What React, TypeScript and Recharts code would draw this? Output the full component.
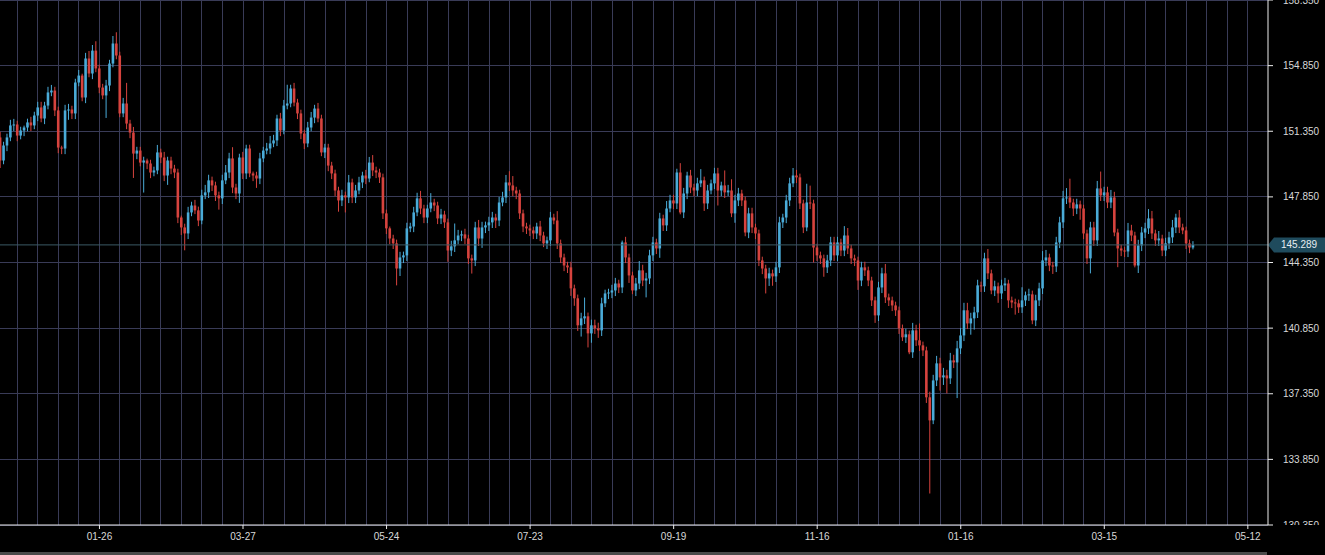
import React from "react";
import {
  ComposedChart,
  Bar,
  XAxis,
  YAxis,
  CartesianGrid,
  ReferenceLine,
} from "recharts";

// daily closes, oldest first (open of each candle = previous close)
const CLOSES = [
  149.79, 150.59, 151.02, 151.66, 151.71, 151.12, 151.39, 151.55, 151.82, 151.66,
  152.19, 152.62, 152.03, 152.72, 153.42, 153.52, 152.46, 150.48, 150.43, 152.46,
  152.51, 152.3, 153.95, 154.32, 153.15, 155.23, 154.43, 155.65, 154.7, 153.68,
  153.26, 153.79, 154.96, 156.03, 155.39, 152.3, 152.83, 151.76, 151.28, 150.16,
  150.32, 149.68, 149.79, 149.63, 149.15, 149.26, 150.22, 149.95, 148.99, 149.79,
  149.36, 149.15, 146.75, 146.22, 145.9, 147.02, 147.39, 147.13, 146.59, 147.93,
  148.09, 148.73, 148.46, 147.93, 147.77, 148.73, 149.15, 149.9, 148.35, 148.03,
  149.95, 149.1, 150.43, 149.1, 148.99, 148.83, 149.9, 150.32, 150.43, 150.7,
  150.86, 152.03, 151.39, 152.72, 152.83, 153.63, 152.88, 152.3, 151.23, 150.7,
  151.55, 152.08, 152.56, 152.03, 150.22, 150.48, 149.52, 149.1, 148.19, 147.66,
  147.93, 147.82, 148.62, 147.82, 148.19, 148.62, 148.99, 148.83, 149.68, 149.26,
  149.15, 148.89, 146.97, 146.17, 145.63, 145.37, 144.03, 144.62, 144.73, 146.17,
  146.27, 147.02, 147.77, 147.23, 146.75, 147.23, 147.55, 147.39, 146.7, 146.91,
  146.49, 144.99, 145.21, 145.53, 145.79, 145.85, 145.63, 144.57, 144.46, 146.22,
  145.63, 146.22, 146.33, 146.49, 146.75, 146.59, 147.55, 147.82, 148.62, 148.46,
  148.19, 148.03, 146.97, 146.27, 146.17, 146.06, 145.9, 146.27, 145.79, 145.37,
  145.53, 146.75, 146.59, 145.37, 144.62, 144.19, 144.09, 142.97, 142.44, 141.0,
  141.37, 141.48, 140.57, 141.0, 140.84, 140.73, 142.17, 142.7, 142.75, 142.86,
  143.23, 143.02, 145.42, 144.62, 143.66, 142.86, 143.23, 143.93, 143.39, 143.5,
  144.73, 145.42, 145.1, 146.7, 146.33, 147.23, 147.66, 147.5, 149.15, 147.02,
  148.03, 148.99, 148.35, 148.19, 148.57, 148.73, 147.5, 148.19, 148.57, 149.1,
  148.19, 148.46, 148.09, 148.19, 146.97, 147.66, 148.03, 147.66, 145.95, 146.97,
  146.22, 145.9, 144.46, 144.03, 143.5, 143.77, 143.61, 144.09, 146.49, 146.75,
  147.66, 148.57, 148.99, 148.89, 147.5, 146.22, 147.55, 147.5, 145.15, 144.73,
  144.57, 144.09, 144.46, 145.42, 144.73, 145.42, 144.99, 145.79, 145.1, 144.57,
  144.46, 143.39, 144.09, 143.93, 143.39, 142.33, 141.53, 143.02, 143.77, 142.49,
  142.33, 142.06, 141.8, 140.84, 140.36, 140.52, 139.56, 140.73, 140.2, 139.93,
  139.66, 137.16, 135.93, 138.06, 138.97, 138.22, 138.33, 138.17, 139.13, 139.02,
  139.77, 140.46, 141.8, 141.1, 141.37, 141.69, 143.13, 143.08, 144.57, 143.77,
  142.86, 143.08, 142.7, 143.13, 143.23, 142.33, 142.22, 142.17, 141.96, 142.33,
  142.6, 142.65, 141.26, 142.33, 142.97, 144.46, 144.62, 144.19, 144.14, 145.42,
  146.49, 147.77, 147.82, 147.55, 147.23, 147.45, 147.23, 145.9, 144.57, 146.22,
  145.53, 148.3, 147.93, 148.09, 147.55, 147.82, 145.95, 145.1, 144.99, 144.94,
  146.06, 145.79, 144.19, 145.26, 145.95, 146.17, 146.7, 145.9, 145.53, 145.63,
  144.99, 145.37, 145.69, 146.22, 146.75, 146.22, 146.06, 145.37, 145.15, 145.289,
];
const FIRST_OPEN = 151.02;

// wick length above the body
const UPPER_WICK = [
  0.3, 0.2, 0.2, 0.3, 0.3, 0.2, 0.2, 0.1, 0.2, 0.3,
  0.2, 0.3, 0.3, 0.2, 0.3, 0.3, 0.2, 0.2, 0.1, 0.3,
  0.3, 0.2, 0.2, 0.3, 0.1, 0.3, 0.4, 0.3, 0.5, 0.2,
  0.2, 0.3, 0.2, 0.4, 0.6, 0.2, 0.3, 1.1, 0.2, 0.3,
  0.2, 0.2, 0.2, 0.1, 0.2, 0.2, 0.4, 0.2, 0.3, 0.2,
  0.2, 0.2, 0.2, 0.1, 0.2, 0.3, 0.2, 0.3, 0.2, 0.3,
  0.4, 0.3, 0.2, 0.2, 0.2, 0.3, 0.4, 0.3, 0.6, 0.2,
  0.2, 0.3, 0.2, 0.2, 0.1, 0.2, 0.3, 0.2, 0.3, 0.4,
  0.3, 0.2, 0.3, 0.3, 1.0, 0.2, 0.3, 0.2, 0.2, 0.2,
  0.3, 0.3, 0.2, 0.3, 0.2, 0.2, 0.2, 0.2, 0.2, 0.2,
  0.3, 0.2, 0.4, 0.2, 0.3, 0.3, 0.2, 0.3, 0.3, 0.4,
  0.2, 0.2, 0.2, 0.2, 0.1, 0.2, 0.2, 0.3, 0.2, 0.3,
  0.2, 0.3, 0.3, 0.4, 0.2, 0.2, 0.5, 0.2, 0.2, 0.3,
  0.2, 0.2, 0.3, 0.9, 0.3, 0.2, 0.3, 0.2, 0.2, 0.3,
  0.4, 0.3, 0.2, 0.3, 0.3, 0.2, 0.3, 0.3, 0.4, 0.6,
  0.5, 0.2, 0.2, 0.2, 0.2, 0.2, 0.2, 0.2, 0.3, 0.2,
  0.2, 0.3, 0.2, 0.5, 0.2, 0.2, 0.2, 0.3, 0.2, 0.2,
  0.3, 1.0, 0.2, 0.3, 0.3, 0.3, 0.3, 0.2, 0.2, 0.3,
  0.3, 0.2, 0.1, 0.3, 0.2, 0.2, 0.3, 0.5, 0.3, 0.3,
  0.3, 0.3, 0.2, 0.3, 0.2, 0.4, 0.3, 0.3, 0.2, 0.5,
  0.3, 0.2, 0.3, 0.2, 0.3, 0.6, 0.2, 0.3, 0.2, 0.3,
  0.3, 0.2, 0.8, 0.3, 0.6, 0.3, 0.3, 0.2, 0.2, 0.3,
  0.3, 0.2, 0.2, 0.2, 0.2, 0.3, 0.2, 0.3, 0.3, 0.2,
  0.3, 0.3, 0.4, 0.3, 0.2, 0.2, 1.0, 0.9, 0.2, 0.2,
  0.2, 0.2, 0.3, 0.3, 0.3, 0.3, 0.2, 0.5, 0.4, 0.2,
  0.2, 0.2, 0.3, 0.3, 0.2, 0.2, 0.2, 0.3, 0.3, 0.5,
  0.2, 0.2, 0.2, 0.2, 0.2, 0.3, 0.2, 0.4, 0.3, 0.9,
  0.2, 0.2, 0.3, 0.3, 0.4, 0.3, 0.4, 0.3, 0.4, 0.3,
  0.4, 0.4, 0.4, 0.4, 0.3, 0.3, 0.3, 0.2, 0.3, 0.5,
  0.2, 0.3, 0.2, 0.3, 0.3, 0.2, 0.2, 0.2, 0.2, 0.7,
  0.2, 0.3, 0.2, 0.3, 0.3, 0.5, 0.4, 0.2, 0.2, 0.3,
  0.3, 0.4, 0.5, 1.0, 0.2, 0.3, 0.2, 0.2, 0.2, 0.3,
  0.3, 0.4, 0.9, 0.3, 0.3, 0.4, 0.3, 0.2, 0.2, 0.2,
  0.4, 0.3, 0.2, 0.3, 0.3, 0.3, 0.5, 0.4, 0.2, 0.4,
  0.2, 0.3, 0.3, 0.4, 0.2, 0.4, 0.2, 0.2, 0.2, 0.2,
];

// wick length below the body
const LOWER_WICK = [
  0.4, 0.2, 0.3, 0.2, 0.3, 0.3, 0.2, 0.3, 0.2, 0.3,
  0.2, 0.3, 0.2, 0.3, 0.2, 0.2, 0.3, 0.3, 0.3, 0.3,
  0.5, 0.3, 0.3, 0.2, 0.2, 0.3, 0.2, 0.3, 0.2, 0.3,
  0.2, 1.2, 0.3, 0.2, 0.2, 0.2, 0.2, 0.3, 0.3, 1.3,
  0.3, 0.2, 1.6, 0.3, 0.3, 0.2, 0.2, 0.3, 0.3, 0.5,
  0.3, 0.3, 0.3, 0.4, 0.9, 0.3, 0.2, 0.2, 0.3, 0.2,
  0.2, 0.3, 0.3, 0.3, 0.6, 0.3, 0.2, 0.3, 0.3, 0.3,
  0.5, 0.3, 0.3, 0.2, 0.3, 0.5, 0.3, 0.2, 0.2, 0.3,
  0.2, 0.3, 0.3, 0.2, 0.2, 0.2, 0.2, 0.3, 0.3, 0.3,
  0.2, 0.2, 0.3, 0.2, 0.2, 0.3, 0.3, 0.3, 0.3, 0.6,
  0.3, 0.8, 0.3, 0.3, 0.3, 0.2, 0.3, 0.3, 0.2, 0.3,
  0.3, 0.3, 0.3, 0.3, 0.3, 0.3, 0.9, 0.4, 0.3, 0.3,
  0.2, 0.3, 0.2, 0.3, 0.3, 0.3, 0.2, 0.3, 0.3, 0.3,
  0.3, 0.6, 0.3, 0.3, 0.2, 0.3, 0.3, 0.3, 0.7, 0.3,
  0.4, 0.5, 0.3, 0.3, 0.3, 0.4, 0.3, 0.2, 0.3, 0.3,
  0.3, 0.3, 0.3, 0.3, 0.3, 0.3, 0.3, 0.3, 0.3, 0.2,
  0.3, 0.3, 0.2, 0.3, 0.3, 0.3, 0.3, 0.4, 0.4, 0.3,
  0.6, 0.3, 0.75, 0.5, 0.3, 0.4, 0.3, 0.2, 0.3, 0.3,
  0.3, 0.3, 0.3, 0.3, 0.4, 0.2, 0.3, 0.3, 0.3, 0.9,
  0.3, 0.3, 0.3, 0.5, 0.3, 0.3, 0.2, 0.3, 0.3, 0.1,
  0.3, 0.3, 0.3, 0.3, 0.3, 0.2, 0.4, 0.3, 0.2, 0.3,
  0.8, 0.3, 0.3, 0.2, 0.2, 0.5, 0.3, 0.3, 0.2, 0.3,
  0.3, 0.3, 0.3, 0.3, 0.8, 0.4, 0.5, 0.3, 0.3, 0.3,
  0.3, 0.3, 0.2, 0.3, 0.3, 0.3, 0.2, 0.3, 0.8, 0.3,
  0.3, 0.5, 0.3, 0.3, 0.3, 0.3, 0.3, 0.3, 0.3, 0.3,
  0.3, 0.5, 0.3, 0.3, 0.3, 0.3, 0.4, 0.3, 0.3, 0.3,
  0.3, 0.3, 0.3, 0.3, 0.2, 0.3, 0.1, 0.3, 0.3, 0.3,
  0.3, 0.3, 3.9, 0.2, 0.3, 0.7, 0.4, 0.8, 0.3, 0.3,
  1.9, 0.3, 0.3, 0.3, 0.6, 0.6, 0.3, 0.3, 0.3, 0.3,
  0.2, 0.3, 0.5, 0.3, 0.3, 0.4, 0.3, 0.6, 0.3, 0.3,
  0.3, 0.3, 0.2, 0.3, 0.3, 0.3, 0.3, 0.3, 0.4, 0.3,
  0.3, 0.3, 0.3, 0.3, 0.4, 0.3, 0.6, 0.3, 0.3, 0.8,
  0.3, 0.3, 0.3, 0.3, 0.3, 0.3, 0.2, 1.0, 0.3, 0.3,
  0.3, 0.3, 0.1, 0.4, 0.3, 0.3, 0.3, 0.3, 0.3, 0.3,
  0.3, 0.3, 0.3, 0.3, 0.3, 0.3, 0.2, 0.3, 0.3, 0.1,
];

// date labels and the candle slot they sit on
const DATE_LABELS = ["01-26", "03-27", "05-24", "07-23", "09-19", "11-16", "01-16", "03-15", "05-12"];
const DATE_SLOTS = [29, 71, 113, 155, 197, 239, 281, 323, 365];

const PRICE_TICKS = [130.35, 133.85, 137.35, 140.85, 144.35, 147.85, 151.35, 154.85, 158.35];

const UP = "#4aabd8";
const DOWN = "#d6433e";
const GRID = "#393b57";
const AXIS = "#ececec";
const LABEL = "#d8d8d8";
const TAG = "#1f4b5d";
const PRICE_LINE = "#3b5965";
const FONT = "'Liberation Sans', Arial, sans-serif";

const candles = CLOSES.map((close, i) => {
  const open = i === 0 ? FIRST_OPEN : CLOSES[i - 1];
  const high = Math.max(open, close) + UPPER_WICK[i];
  const low = Math.min(open, close) - LOWER_WICK[i];
  return { i, open, close, high, low, range: [low, high] };
});

const last = CLOSES[CLOSES.length - 1];

// vertical grid every 6 slots
const gridSlots: number[] = [];
for (let s = 5; s <= 365; s += 6) gridSlots.push(s);

const Candle = (props: any) => {
  const { x, y, width, height, payload } = props;
  if (!payload || height == null) return null;
  const { open, close, high, low } = payload;
  const cx = x + width / 2;
  const k = height / (high - low);
  const top = y + (high - Math.max(open, close)) * k;
  const bodyH = Math.max(Math.abs(open - close) * k, 1);
  const color = close >= open ? UP : DOWN;
  return (
    <g>
      <rect x={cx - 0.5} y={y} width={1} height={height} fill={color} />
      <rect x={cx - 1.3} y={top} width={2.6} height={bodyH} fill={color} />
    </g>
  );
};

const PriceTick = (props: any) => {
  const { x, y, payload } = props;
  return (
    <g>
      <defs>
        <clipPath id="ylabels">
          <rect x={1268} y={-20} width={80} height={545} />
        </clipPath>
      </defs>
      <text
        x={x}
        y={y}
        dy={3.5}
        fill={LABEL}
        fontSize={10}
        fontFamily={FONT}
        textAnchor="start"
        clipPath="url(#ylabels)"
      >
        {Number(payload.value).toFixed(3)}
      </text>
    </g>
  );
};

const PriceTag = (props: any) => {
  const vb = props.viewBox || {};
  const y = vb.y ?? 0;
  const x0 = (vb.x ?? 0) + (vb.width ?? 0);
  return (
    <g>
      <path
        d={`M${x0} ${y} L${x0 + 6} ${y - 7.5} L${x0 + 57} ${y - 7.5} L${x0 + 57} ${y + 7.5} L${x0 + 6} ${y + 7.5} Z`}
        fill={TAG}
      />
      <text x={x0 + 13} y={y + 3.5} fill="#e6eef2" fontSize={10} fontFamily={FONT}>
        {last.toFixed(3)}
      </text>
    </g>
  );
};

export default function App() {
  return (
    <div
      style={{
        position: "absolute",
        left: 0,
        top: 0,
        width: 1325,
        height: 555,
        background: "#000",
        overflow: "hidden",
      }}
    >
      <ComposedChart
        width={1325}
        height={555}
        data={candles}
        margin={{ top: 0, right: 0, bottom: 0, left: 0 }}
      >
        <CartesianGrid
          stroke={GRID}
          verticalValues={gridSlots}
          horizontalValues={PRICE_TICKS}
          shapeRendering="crispEdges"
        />
        <XAxis
          dataKey="i"
          type="number"
          domain={[-0.1, 370.9]}
          allowDataOverflow
          ticks={DATE_SLOTS}
          interval={0}
          tickFormatter={(v) => DATE_LABELS[DATE_SLOTS.indexOf(v)] ?? ""}
          height={30}
          tickSize={4}
          tickMargin={4}
          axisLine={{ stroke: AXIS }}
          tickLine={{ stroke: AXIS }}
          tick={{ fill: LABEL, fontSize: 10, fontFamily: FONT }}
        />
        <YAxis
          orientation="right"
          type="number"
          domain={[130.35, 158.35]}
          allowDataOverflow
          ticks={PRICE_TICKS}
          interval={0}
          width={57}
          tickSize={5}
          tickMargin={10}
          axisLine={{ stroke: AXIS }}
          tickLine={{ stroke: AXIS }}
          tick={<PriceTick />}
        />
        <Bar
          dataKey="range"
          barSize={3}
          shape={<Candle />}
          isAnimationActive={false}
        />
        <ReferenceLine
          y={last}
          stroke={PRICE_LINE}
          strokeWidth={1}
          label={<PriceTag />}
        />
      </ComposedChart>
      <div
        style={{
          position: "absolute",
          left: 0,
          top: 552,
          width: 1267,
          height: 3,
          background: "#4a4a4a",
        }}
      />
    </div>
  );
}
